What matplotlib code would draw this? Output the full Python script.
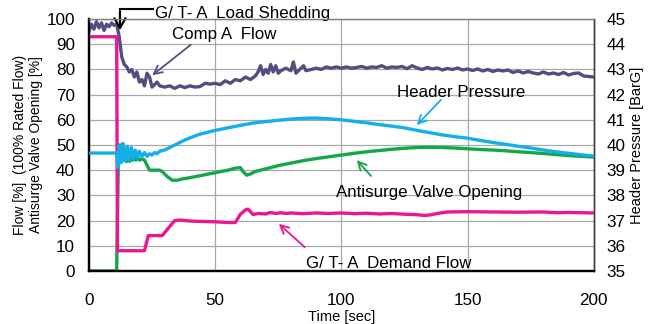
import matplotlib
matplotlib.use("Agg")
import matplotlib.pyplot as plt

plt.rcParams['font.family'] = ['Liberation Sans', 'DejaVu Sans']

# ---- data ----
comp_t = [0, 1, 2, 3, 4, 5, 6, 7, 8, 9, 10, 11, 12, 13, 14, 15, 16, 17, 18, 19, 20,
          21, 22, 23, 24, 25, 26, 27, 28, 30, 32, 34, 36, 38, 40, 42, 44, 46, 48, 50,
          52, 54, 56, 58, 60, 62, 64, 66, 67, 68, 69, 70, 71, 72, 73, 74, 75, 76, 78,
          80, 81, 82, 84, 85, 86, 88, 90, 92, 94, 96, 98, 100, 102, 104, 106, 108, 110,
          112, 114, 116, 118, 120, 122, 124, 126, 128, 130, 132, 134, 136, 138, 140,
          142, 144, 146, 148, 150, 152, 154, 156, 158, 160, 162, 164, 166, 168, 170,
          172, 174, 176, 178, 180, 182, 184, 186, 188, 190, 192, 194, 196, 198, 200]
comp_flow = [95, 98, 96, 99, 96.5, 98.5, 95.5, 98, 97, 98.5, 97.5, 98, 93, 85, 82, 81,
             79, 80, 77, 79, 75, 76, 73.5, 78.5, 77, 73, 74, 75, 73.5, 73, 73.5, 72.5,
             73.5, 72.8, 73.5, 73, 73.2, 74.5, 74.2, 74.5, 74, 75.5, 74.5, 76, 75.5, 77,
             76, 77.5, 79, 81.5, 78, 80, 78.5, 82, 79, 81.5, 78.5, 79.5, 80.5, 79.5, 83,
             78.5, 80.5, 81.5, 79.5, 80, 80.5, 80, 81, 80.5, 81, 80.5, 81, 80.5, 80.8,
             81.2, 80.5, 81, 80.8, 81.5, 80.5, 81, 80.8, 81.2, 80.3, 81.5, 80.6, 80,
             80.8, 80.2, 80.6, 79.8, 80.4, 80, 80.6, 79.8, 80.2, 79.6, 80.2, 79.4, 80,
             79.2, 79.8, 79.4, 79.8, 78.8, 79.4, 78.6, 79.2, 78.6, 78.2, 79, 78.2, 78.6,
             78, 78.8, 77.8, 78.4, 78.6, 77.4, 77.2, 77]

press_t = [0, 11, 11.5, 12, 12.8, 13.6, 14.4, 15.2, 16, 16.8, 17.6, 18.4, 19.2, 20, 21,
           22, 23, 24, 25, 26, 27, 28, 30, 32, 34, 36, 38, 40, 42, 44, 46, 48, 50, 55,
           60, 65, 70, 75, 80, 85, 90, 95, 100, 105, 110, 115, 120, 125, 130, 135, 140,
           145, 150, 155, 160, 165, 170, 175, 180, 185, 190, 195, 200]
header_pressure = [39.68, 39.68, 39.1, 40.0, 39.3, 40.05, 39.35, 39.95, 39.4, 39.9,
                   39.45, 39.8, 39.5, 39.75, 39.55, 39.7, 39.55, 39.65, 39.6, 39.7,
                   39.65, 39.75, 39.8, 39.9, 40.0, 40.1, 40.2, 40.28, 40.36, 40.43,
                   40.48, 40.53, 40.58, 40.68, 40.78, 40.87, 40.93, 40.98, 41.03, 41.06,
                   41.07, 41.04, 41.0, 40.94, 40.88, 40.81, 40.75, 40.68, 40.58, 40.49,
                   40.4, 40.33, 40.27, 40.18, 40.1, 40.03, 39.95, 39.88, 39.8, 39.73,
                   39.67, 39.61, 39.56]

valve_t = [0, 11, 11.6, 12, 12.6, 13.2, 13.8, 14.4, 15, 15.6, 16.2, 16.8, 17.4, 18,
           18.6, 19.2, 20, 21, 22, 23, 24, 26, 28, 29, 31, 33, 35, 37, 40, 45, 50, 55,
           58, 60, 61, 62.5, 64, 66, 70, 75, 80, 85, 90, 95, 100, 105, 110, 115, 120,
           125, 130, 135, 140, 145, 150, 155, 160, 165, 170, 175, 180, 185, 190, 195, 200]
valve_open = [0, 0, 40, 50, 44, 50.5, 44, 48.5, 43.5, 47.5, 43.5, 46.5, 44, 46, 44,
              45.5, 44, 44.5, 44, 42, 40, 40, 40, 39.5, 37.5, 36, 36, 36.5, 37, 38, 39,
              40, 40.8, 41, 39.5, 38, 38.5, 39.5, 40.5, 41.8, 42.8, 43.8, 44.6, 45.3, 46,
              46.7, 47.3, 47.8, 48.3, 48.7, 49, 49.1, 49, 48.8, 48.5, 48.2, 48, 47.7,
              47.3, 47, 46.6, 46.2, 45.8, 45.5, 45.2]

demand_t = [0, 11, 11.3, 22, 23.5, 29, 34, 36, 40, 45, 50, 55, 58, 60, 62, 63, 64, 65,
            67, 70, 72, 74, 76, 78, 80, 85, 90, 95, 100, 105, 110, 115, 120, 125, 130,
            133, 135, 138, 142, 150, 160, 170, 180, 185, 190, 200]
demand_flow = [93, 93, 8, 8, 14, 14, 20, 20.2, 19.8, 19.6, 19.5, 19.2, 19.2, 22.5, 24.2,
               24.5, 23.5, 22.4, 22.8, 22.6, 23.2, 22.8, 23.1, 22.8, 23, 22.7, 23, 22.8,
               23, 22.7, 22.9, 22.6, 22.8, 22.5, 22.3, 22, 22.2, 22.8, 23.4, 23.5, 23.4,
               23.3, 23.4, 23.1, 23.2, 23]

x_ticks = [0, 50, 100, 150, 200]
left_ticks = list(range(0, 101, 10))
right_ticks = list(range(35, 46))

c_comp = '#554C80'
c_press = '#14AEEA'
c_valve = '#13A64A'
c_demand = '#EE1690'

fig = plt.figure(figsize=(6.49, 3.24), dpi=100)
ax = fig.add_axes([0.137, 0.164, 0.778, 0.777])
ax2 = ax.twinx()

lw = 2.4
ax.plot(comp_t, comp_flow, color=c_comp, lw=lw, zorder=3)
ax.plot(valve_t, valve_open, color=c_valve, lw=lw, zorder=3)
ax.plot(demand_t, demand_flow, color=c_demand, lw=lw, zorder=4)
ax2.plot(press_t, header_pressure, color=c_press, lw=lw, zorder=3)

ax.set_xlim(0, 200)
ax.set_ylim(0, 100)
ax2.set_ylim(35, 45)
ax.set_xticks(x_ticks)
ax.set_yticks(left_ticks)
ax2.set_yticks(right_ticks)
ax.grid(True, color='#A8A8A8', lw=0.9)
ax.set_axisbelow(True)

tfs = 12.3
ax.tick_params(axis='both', length=0, labelsize=tfs)
ax.tick_params(axis='y', pad=10)
ax.tick_params(axis='x', pad=16)
ax2.tick_params(axis='y', length=0, labelsize=tfs, pad=9)

for a in (ax, ax2):
    a.spines['left'].set_color('black')
    a.spines['left'].set_linewidth(1.6)
    a.spines['bottom'].set_color('black')
    a.spines['bottom'].set_linewidth(1.6)
    a.spines['top'].set_color('#808080')
    a.spines['top'].set_linewidth(0.9)
    a.spines['right'].set_color('#404040')
    a.spines['right'].set_linewidth(1.0)

ax.set_xlabel('Time [sec]', fontsize=10.5)
ax.xaxis.set_label_coords(0.5, -0.155)
ax.set_ylabel('Flow [%]  (100% Rated Flow)\nAntisurge Valve Opening [%]', fontsize=10,
              linespacing=1.2)
ax.yaxis.set_label_coords(-0.09, 0.5)
ax2.set_ylabel('Header Pressure [BarG]', fontsize=10.5)
ax2.yaxis.set_label_coords(1.072, 0.5)

fs = 12.2
# Load shedding annotation
ax.plot([12.3, 25.5], [104, 104], color='black', lw=1.5, clip_on=False, zorder=6)
ax.annotate('', xy=(12.3, 94.5), xytext=(12.3, 104.3), annotation_clip=False,
            arrowprops=dict(arrowstyle='->,head_length=0.7,head_width=0.4',
                            color='black', lw=1.6), zorder=6)
ax.text(26.1, 102.4, 'G/ T- A  Load Shedding', fontsize=fs, ha='left', va='center',
        clip_on=False)

ax.text(32.9, 93.7, 'Comp A  Flow', fontsize=fs, ha='left', va='center')
ax.annotate('', xy=(24.2, 77), xytext=(41.2, 90.5),
            arrowprops=dict(arrowstyle='->,head_length=0.6,head_width=0.3',
                            color=c_comp, lw=1.3))

ax.text(122, 71, 'Header Pressure', fontsize=fs, ha='left', va='center')
ax.annotate('', xy=(129.1, 57.1), xytext=(140.2, 68.7),
            arrowprops=dict(arrowstyle='->,head_length=0.6,head_width=0.3',
                            color=c_press, lw=1.3))

ax.text(97.8, 31.3, 'Antisurge Valve Opening', fontsize=fs, ha='left', va='center')
ax.annotate('', xy=(105.3, 44.8), xytext=(112.5, 36.9),
            arrowprops=dict(arrowstyle='->,head_length=0.6,head_width=0.3',
                            color=c_valve, lw=1.3))

ax.text(85.9, 2.9, 'G/ T- A  Demand Flow', fontsize=fs, ha='left', va='center')
ax.annotate('', xy=(74.4, 19.4), xytext=(86.3, 8.7),
            arrowprops=dict(arrowstyle='->,head_length=0.6,head_width=0.3',
                            color=c_demand, lw=1.3))

fig.savefig('out.png', dpi=100)
